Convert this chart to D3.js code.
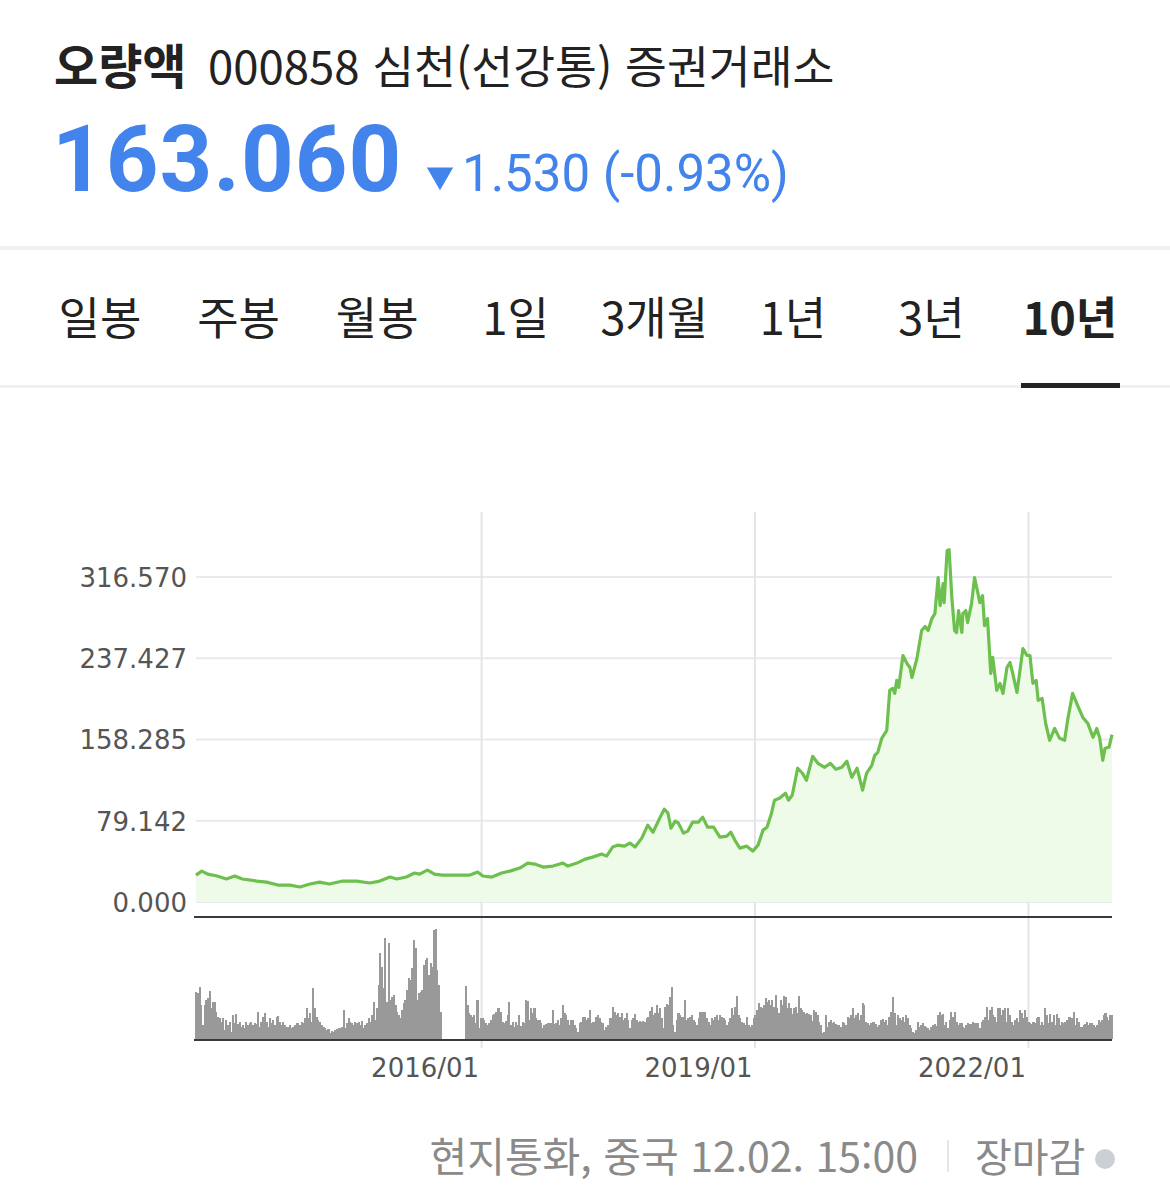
<!DOCTYPE html>
<html lang="ko">
<head>
<meta charset="utf-8">
<script src="https://cdn.jsdelivr.net/npm/d3@7"></script>
<style>
    html, body { margin: 0; padding: 0; background: #fff; }
    svg { display: block; }
    .kr { font-family: "Noto Sans CJK KR", "Noto Sans", sans-serif; }
    .num { font-family: Roboto, "Noto Sans", sans-serif; }
    .axis text { font-family: "DejaVu Sans", Verdana, sans-serif; font-size: 26px; fill: #555; }
</style>
</head>
<body>
<div id="chart"></div>
<script>
// ---- data ----
const stockName = "오량액";
const stockInfo = "000858 심천(선강통) 증권거래소";
const lastPrice = "163.060";
const priceChange = "1.530 (-0.93%)";
const tabLabels = ["일봉", "주봉", "월봉", "1일", "3개월", "1년", "3년", "10년"];
const activeTab = "10년";
const footerInfo = "현지통화, 중국 12.02. 15:00";
const footerStatus = "장마감";

const yTickValues = [0, 79.142, 158.285, 237.427, 316.570];
const xTickDates = ["2016-01-01", "2019-01-01", "2022-01-01"];

const priceDates = [
    "2012-11-12", "2012-12-05", "2012-12-29", "2013-02-05", "2013-03-14", "2013-04-16", "2013-05-17", "2013-07-13",
    "2013-08-22", "2013-10-06", "2013-11-23", "2014-01-03", "2014-02-12", "2014-03-22", "2014-05-01", "2014-06-23",
    "2014-08-18", "2014-10-09", "2014-11-19", "2014-12-29", "2015-01-26", "2015-03-05", "2015-04-07", "2015-04-27",
    "2015-05-29", "2015-06-26", "2015-07-28", "2015-09-23", "2015-11-15", "2015-12-16", "2016-01-06", "2016-02-11",
    "2016-03-21", "2016-04-23", "2016-06-02", "2016-07-04", "2016-08-01", "2016-09-03", "2016-10-13", "2016-11-22",
    "2016-12-12", "2017-01-17", "2017-02-19", "2017-03-21", "2017-04-26", "2017-05-16", "2017-06-09", "2017-06-29",
    "2017-07-27", "2017-08-17", "2017-09-07", "2017-10-04", "2017-10-28", "2017-11-18", "2017-12-15", "2018-01-02",
    "2018-01-17", "2018-01-29", "2018-02-15", "2018-02-28", "2018-03-20", "2018-04-06", "2018-04-26", "2018-05-19",
    "2018-06-05", "2018-06-25", "2018-07-19", "2018-08-13", "2018-09-10", "2018-09-26", "2018-10-12", "2018-11-01",
    "2018-11-29", "2018-12-23", "2019-01-13", "2019-02-02", "2019-02-18", "2019-03-08", "2019-03-20", "2019-04-09",
    "2019-05-03", "2019-05-15", "2019-05-30", "2019-06-21", "2019-07-10", "2019-07-26", "2019-08-20", "2019-09-10",
    "2019-10-07", "2019-10-30", "2019-11-21", "2019-12-15", "2020-01-04", "2020-01-24", "2020-02-14", "2020-03-07",
    "2020-03-23", "2020-04-13", "2020-04-25", "2020-05-07", "2020-05-23", "2020-06-12", "2020-06-24", "2020-07-06",
    "2020-07-14", "2020-07-22", "2020-07-30", "2020-08-16", "2020-09-01", "2020-09-13", "2020-09-21", "2020-10-11",
    "2020-10-30", "2020-11-13", "2020-11-25", "2020-12-10", "2020-12-22", "2021-01-04", "2021-01-12", "2021-01-24",
    "2021-01-28", "2021-02-09", "2021-02-17", "2021-02-28", "2021-03-11", "2021-03-19", "2021-03-27", "2021-04-09",
    "2021-04-13", "2021-04-25", "2021-05-02", "2021-05-18", "2021-05-30", "2021-06-12", "2021-06-20", "2021-07-01",
    "2021-07-09", "2021-07-21", "2021-08-03", "2021-08-11", "2021-08-27", "2021-09-09", "2021-09-21", "2021-10-07",
    "2021-10-19", "2021-10-30", "2021-11-16", "2021-11-28", "2021-12-10", "2021-12-26", "2022-01-07", "2022-01-19",
    "2022-02-01", "2022-02-09", "2022-02-25", "2022-03-11", "2022-03-27", "2022-04-16", "2022-05-06", "2022-05-26",
    "2022-06-07", "2022-06-27", "2022-07-17", "2022-08-07", "2022-08-27", "2022-09-17", "2022-10-02", "2022-10-14",
    "2022-10-26", "2022-11-04", "2022-11-20", "2022-12-02"
];

const priceValues = [
    26.2, 30.1, 27.2, 25.3, 22.4, 25.3, 22.4, 20.4,
    19.4, 16.5, 16.5, 14.6, 17.5, 19.4, 17.5, 20.4,
    20.4, 18.5, 20.4, 24.3, 22.4, 24.3, 28.2, 27.2,
    31.1, 27.2, 26.2, 26.2, 26.2, 29.2, 25.3, 24.3,
    28.2, 30.1, 33.1, 37.9, 36.9, 34.0, 35.0, 37.9,
    35.0, 37.9, 41.8, 43.7, 46.7, 44.7, 53.5, 55.4,
    54.4, 57.4, 53.5, 62.2, 74.9, 68.0, 81.7, 90.4,
    86.5, 71.9, 78.7, 76.8, 67.1, 69.0, 77.8, 77.8,
    82.6, 72.9, 72.9, 63.2, 64.2, 68.0, 60.3, 52.5,
    54.4, 49.6, 55.4, 70.0, 72.9, 86.5, 99.2, 101.1,
    106.0, 99.2, 104.0, 130.3, 125.4, 118.6, 141.9, 135.1,
    131.2, 135.1, 129.3, 131.2, 137.1, 121.5, 130.3, 108.9,
    125.4, 133.2, 142.9, 145.8, 159.4, 167.2, 206.1, 208.0,
    203.2, 215.8, 209.0, 240.1, 232.3, 228.4, 218.7, 237.2,
    264.4, 268.3, 264.4, 276.1, 280.9, 315.9, 288.7, 310.1,
    291.6, 342.2, 343.1, 296.5, 264.4, 262.5, 283.9, 262.5,
    280.9, 283.9, 272.2, 290.7, 315.9, 301.4, 291.6, 298.4,
    269.3, 276.1, 222.6, 238.2, 206.1, 212.9, 203.2, 228.4,
    233.3, 222.6, 204.1, 225.5, 246.9, 240.1, 240.1, 212.9,
    215.8, 196.4, 198.3, 174.0, 157.5, 169.1, 159.4, 157.5,
    176.9, 203.2, 191.5, 179.8, 174.0, 160.4, 169.1, 159.4,
    138.0, 149.7, 150.7, 163.06
];

// volume, one bar per period from the first to the last price date
const volumeValues = [
    142, 137, 155, 102, 42, 102, 117, 122, 145, 92, 112, 112, 82, 67, 62, 52, 62, 27, 57, 42,
    52, 22, 72, 47, 74, 44, 50, 37, 42, 32, 52, 42, 47, 52, 42, 47, 44, 82, 37, 52,
    67, 77, 52, 37, 62, 47, 57, 42, 67, 70, 52, 42, 52, 42, 37, 37, 42, 32, 37, 42,
    49, 47, 42, 52, 47, 62, 92, 64, 77, 52, 152, 92, 67, 57, 52, 42, 37, 32, 27, 30,
    17, 24, 22, 27, 30, 32, 34, 37, 87, 32, 47, 64, 52, 47, 42, 52, 47, 52, 42, 54,
    32, 42, 47, 62, 52, 72, 112, 57, 92, 162, 257, 217, 152, 302, 112, 287, 117, 127, 132, 102,
    82, 72, 62, 87, 107, 117, 147, 182, 177, 212, 297, 272, 117, 137, 142, 147, 222, 237, 242, 192,
    227, 217, 327, 330, 207, 162, 82, 0, 0, 0, 0, 0, 0, 0, 0, 0, 0, 0, 0, 0, 0,
    160, 102, 77, 72, 67, 72, 47, 117, 32, 62, 64, 57, 47, 42, 47, 57, 72, 74, 82, 92,
    92, 80, 52, 47, 54, 72, 112, 42, 52, 37, 52, 42, 72, 39, 52, 47, 117, 114, 57, 92,
    77, 92, 62, 57, 57, 47, 32, 42, 44, 47, 49, 47, 87, 44, 47, 57, 42, 62, 102, 77,
    72, 57, 42, 57, 57, 42, 32, 22, 47, 52, 67, 67, 57, 62, 87, 47, 52, 52, 67, 72,
    62, 52, 47, 27, 37, 42, 62, 62, 97, 82, 72, 77, 67, 77, 57, 62, 77, 57, 32, 57,
    62, 74, 57, 52, 55, 52, 54, 52, 62, 67, 84, 97, 72, 77, 102, 77, 92, 62, 32, 97,
    104, 102, 127, 157, 42, 22, 57, 77, 72, 67, 67, 117, 57, 62, 67, 72, 57, 52, 42, 62,
    82, 82, 82, 80, 62, 52, 42, 62, 57, 67, 72, 57, 72, 67, 62, 57, 42, 52, 62, 92,
    72, 97, 130, 72, 62, 52, 47, 42, 67, 42, 37, 42, 62, 72, 87, 107, 97, 92, 102, 122,
    112, 117, 102, 117, 97, 132, 92, 77, 117, 102, 130, 127, 92, 107, 92, 74, 92, 97, 77, 130,
    92, 87, 82,
    74, 77, 74, 72, 54, 87, 82, 72, 52, 42, 17, 22, 72, 37, 52, 57, 47, 52, 44, 42,
    42, 37, 52, 47, 42, 67, 62, 72, 92, 62, 72, 77, 57, 72, 107, 102, 52, 47, 42, 47,
    50, 52, 44, 37, 42, 57, 60, 52, 57, 42, 67, 82, 127, 77, 42, 72, 62, 57, 67, 52,
    72, 62, 42, 32, 22, 17, 27, 52, 37, 42, 47, 40, 37, 32, 27, 37, 42, 44, 40, 72,
    82, 72, 74, 42, 52, 32, 57, 82, 67, 82, 52, 42, 47, 47, 37, 32, 42, 47, 44, 44,
    52, 47, 49, 47, 32, 52, 57, 67, 97, 57, 87, 97, 72, 67, 52, 92, 92, 72, 87, 92,
    52, 92, 72, 52, 42, 57, 62, 52, 87, 77, 62, 87, 67, 52, 47, 44, 52, 47, 62, 67,
    42, 52, 42, 92, 72, 47, 74, 52, 72, 42, 74, 62, 42, 52, 47, 52, 57, 67, 67, 62,
    82, 42, 62, 52, 37, 37, 42, 44, 50, 42, 47, 47, 42, 37, 42, 57, 52, 57, 72, 77,
    67, 57, 72, 72
];

// ---- drawing ----
const width = 1170;
const height = 1189;
const plotLeft = 196, plotRight = 1112;
const priceTop = 512, priceBottom = 902;
const separatorY = 917;
const volumeTop = 929, volumeBottom = 1040;

const blue = "#4383ec";
const lineGreen = "#6dc04e";
const areaGreen = "#effbe9";

const parseDate = d3.timeParse("%Y-%m-%d");
const prices = priceDates.map((d, i) => ({date: parseDate(d), value: priceValues[i]}));

const svg = d3.select("#chart").append("svg")
    .attr("width", width)
    .attr("height", height);

// header
svg.append("text")
    .attr("class", "kr")
    .attr("x", 54).attr("y", 84)
    .style("font-size", "48px").style("font-weight", 700).style("fill", "#222")
    .text(stockName);

svg.append("text")
    .attr("class", "kr")
    .attr("x", 208).attr("y", 84)
    .style("font-size", "45.5px").style("fill", "#222")
    .text(stockInfo);

svg.append("text")
    .attr("class", "num")
    .attr("x", 52).attr("y", 191)
    .style("font-size", "92px").style("font-weight", 700).style("fill", blue)
    .style("letter-spacing", "1px")
    .text(lastPrice);

svg.append("path")
    .attr("d", d3.symbol(d3.symbolTriangle, 300)())
    .attr("transform", "translate(440,175) rotate(180)")
    .style("fill", blue);

svg.append("text")
    .attr("class", "num")
    .attr("x", 462).attr("y", 191)
    .style("font-size", "51px").style("fill", blue)
    .text(priceChange);

// tabs
svg.append("rect").attr("x", 0).attr("y", 246).attr("width", width).attr("height", 4).style("fill", "#eef0f3");
svg.append("rect").attr("x", 0).attr("y", 385).attr("width", width).attr("height", 3).style("fill", "#eef0f3");

const tabScale = d3.scalePoint().domain(tabLabels).range([100, 1070]);

svg.selectAll(".tab")
    .data(tabLabels)
    .enter()
    .append("text")
    .attr("class", "tab kr")
    .attr("x", d => tabScale(d))
    .attr("y", 335)
    .style("text-anchor", "middle")
    .style("font-size", "45px")
    .style("font-weight", d => d === activeTab ? 700 : 400)
    .style("fill", "#222")
    .text(d => d);

svg.append("rect")
    .attr("x", tabScale(activeTab) - 49).attr("y", 383)
    .attr("width", 99).attr("height", 5)
    .style("fill", "#222");

// scales
const x = d3.scaleTime()
    .domain(d3.extent(prices, d => d.date))
    .range([plotLeft, plotRight]);

const y = d3.scaleLinear()
    .domain([0, yTickValues[yTickValues.length - 1] * 1.2])
    .range([priceBottom, priceTop]);

const v = d3.scaleLinear()
    .domain([0, d3.max(volumeValues)])
    .range([volumeBottom - 1, volumeTop]);

const xTicks = xTickDates.map(parseDate);

// grid
svg.append("g")
    .selectAll("line")
    .data(yTickValues)
    .enter()
    .append("line")
    .attr("x1", plotLeft).attr("x2", plotRight)
    .attr("y1", d => y(d)).attr("y2", d => y(d))
    .style("stroke", "#e9e9ee")
    .style("stroke-width", 2);

svg.append("g")
    .selectAll("line")
    .data(xTicks)
    .enter()
    .append("line")
    .attr("x1", d => x(d)).attr("x2", d => x(d))
    .attr("y1", priceTop).attr("y2", volumeBottom + 8)
    .style("stroke", "#e4e5ea")
    .style("stroke-width", 2);

// price area + line
const area = d3.area()
    .x(d => x(d.date))
    .y0(y(0))
    .y1(d => y(d.value));

const line = d3.line()
    .x(d => x(d.date))
    .y(d => y(d.value));

svg.append("path")
    .datum(prices)
    .attr("d", area)
    .style("fill", areaGreen);

svg.append("path")
    .datum(prices)
    .attr("d", line)
    .style("fill", "none")
    .style("stroke", lineGreen)
    .style("stroke-width", 3.2)
    .style("stroke-linejoin", "round");

// y axis labels
const yAxis = svg.append("g")
    .attr("class", "axis")
    .attr("transform", `translate(${plotLeft},0)`)
    .call(d3.axisLeft(y).tickValues(yTickValues).tickFormat(d3.format(".3f")).tickSize(0).tickPadding(9));
yAxis.select(".domain").remove();
yAxis.selectAll("text").attr("dy", "0.36em").style("font-family", null);

// volume bars
const [startDate, endDate] = x.domain();
const step = (endDate - startDate) / (volumeValues.length - 1);
const barWidth = (plotRight - plotLeft) / (volumeValues.length - 1);

svg.append("g")
    .style("shape-rendering", "crispEdges")
    .selectAll("rect")
    .data(volumeValues)
    .enter()
    .append("rect")
    .attr("x", (d, i) => x(new Date(+startDate + i * step)) - barWidth / 2)
    .attr("y", d => v(d))
    .attr("width", barWidth + 0.4)
    .attr("height", d => v(0) - v(d))
    .style("fill", "#999");

// separators
svg.append("line")
    .attr("x1", plotLeft - 2).attr("x2", plotRight)
    .attr("y1", separatorY).attr("y2", separatorY)
    .style("stroke", "#3a3a3a").style("stroke-width", 2);

svg.append("line")
    .attr("x1", plotLeft - 2).attr("x2", plotRight)
    .attr("y1", volumeBottom).attr("y2", volumeBottom)
    .style("stroke", "#3a3a3a").style("stroke-width", 2);

// x axis labels
const xAxis = svg.append("g")
    .attr("class", "axis")
    .attr("transform", `translate(0,${volumeBottom})`)
    .call(d3.axisBottom(x).tickValues(xTicks).tickFormat(d3.timeFormat("%Y/%m")).tickSize(0).tickPadding(19));
xAxis.select(".domain").remove();
xAxis.selectAll("text").attr("x", -3).style("text-anchor", "end");

// footer
svg.append("text")
    .attr("class", "kr")
    .attr("x", 918).attr("y", 1172)
    .style("text-anchor", "end")
    .style("font-size", "41px").style("fill", "#8a8a8a")
    .text(footerInfo);

svg.append("line")
    .attr("x1", 948).attr("x2", 948)
    .attr("y1", 1140).attr("y2", 1172)
    .style("stroke", "#e6e6e6").style("stroke-width", 2);

svg.append("text")
    .attr("class", "kr")
    .attr("x", 975).attr("y", 1172)
    .style("font-size", "40px").style("fill", "#8a8a8a")
    .text(footerStatus);

svg.append("circle")
    .attr("cx", 1105).attr("cy", 1159).attr("r", 10)
    .style("fill", "#cdcfd7");
</script>
</body>
</html>
